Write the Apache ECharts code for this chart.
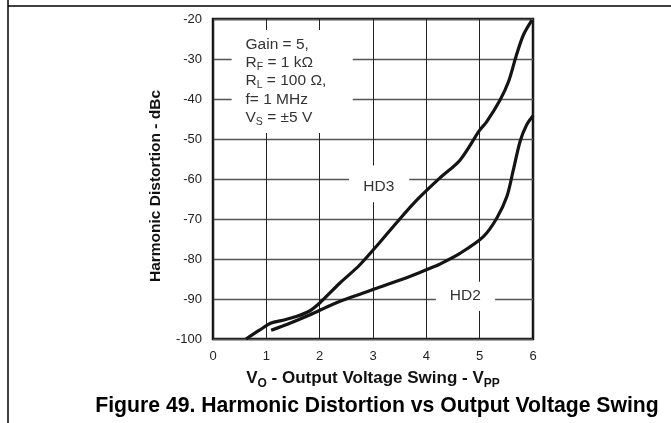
<!DOCTYPE html>
<html>
<head>
<meta charset="utf-8">
<script src="https://cdn.jsdelivr.net/npm/echarts@6/dist/echarts.min.js"></script>
<style>
html,body{margin:0;padding:0;background:#fff;}
#c{width:671px;height:423px;}
</style>
</head>
<body>
<div id="c"></div>
<script>
// ---- data ----
const xTicks = [0, 1, 2, 3, 4, 5, 6];
const yTicks = [-100, -90, -80, -70, -60, -50, -40, -30, -20];

const hd3X = [0.62, 0.87, 1.09, 1.31, 1.56, 1.81, 2.0, 2.38, 2.75, 3.13, 3.45, 3.82, 4.25, 4.63, 5.0, 5.13, 5.38, 5.54, 5.69, 5.82, 5.98];
const hd3Y = [-100, -97.8, -96, -95.3, -94.4, -93, -91, -86, -81.5, -75.8, -70.8, -65.3, -59.8, -55.3, -47.8, -45.7, -40.3, -35.7, -29, -24, -20.3];

const hd2X = [1.09, 1.43, 1.81, 2.25, 2.6, 3.07, 3.69, 4.07, 4.25, 4.63, 5.07, 5.32, 5.51, 5.63, 5.76, 5.88, 6.0];
const hd2Y = [-97.8, -96.1, -94, -91.3, -89.5, -87.3, -84.4, -82.3, -81.3, -78.6, -74.4, -69.8, -64.4, -57.8, -50.5, -46.5, -44.2];

const seriesNames = ['HD3', 'HD2'];
const conditions = ['Gain = 5,', 'R_F = 1 kΩ', 'R_L = 100 Ω,', 'f= 1 MHz', 'V_S = ±5 V'];
const xTitle = 'V_O - Output Voltage Swing - V_PP';
const yTitle = 'Harmonic Distortion - dBc';
const caption = 'Figure 49. Harmonic Distortion vs Output Voltage Swing';

// ---- helpers ----
function zip(xs, ys) { return xs.map((x, i) => [x, ys[i]]); }
function richSub(s, normal, sub) {
  return s.replace(/([A-Za-z])_([A-Za-z]+)/g, (m, a, b) => '{' + normal + '|' + a + '}{' + sub + '|' + b + '}')
          .split(/(\{[a-z]+\|[^}]*\})/).filter(t => t.length).map(t => t.startsWith('{') ? t : '{' + normal + '|' + t + '}').join('');
}

const FONT = 'Liberation Sans, Arial, Helvetica, sans-serif';
const chart = echarts.init(document.getElementById('c'), null, { renderer: 'canvas' });

const option = {
  animation: false,
  backgroundColor: '#fff',
  textStyle: { fontFamily: FONT },
  title: {
    text: caption,
    left: 377,
    textAlign: 'center',
    top: 396,
    padding: 0,
    textStyle: { fontFamily: FONT, fontSize: 21.2, fontWeight: 'bold', color: '#000' }
  },
  grid: {
    left: 213, top: 19, width: 320, height: 320,
    outerBoundsMode: 'none',
    show: true, borderColor: '#111', borderWidth: 2.5, backgroundColor: 'transparent'
  },
  xAxis: {
    type: 'value', min: xTicks[0], max: xTicks[xTicks.length - 1], interval: 1,
    axisLine: { show: false }, axisTick: { show: false },
    splitLine: { show: true, lineStyle: { color: '#222', width: 1 } },
    axisLabel: { margin: 11, fontSize: 13, color: '#222', fontFamily: FONT },
    name: richSub(xTitle, 'b', 's'),
    nameLocation: 'middle', nameGap: 30,
    nameTextStyle: {
      rich: {
        b: { fontSize: 17, fontWeight: 'bold', color: '#111', fontFamily: FONT, lineHeight: 18, verticalAlign: 'bottom' },
        s: { fontSize: 12, fontWeight: 'bold', color: '#111', fontFamily: FONT, lineHeight: 12, verticalAlign: 'bottom', padding: [0, 0, -3, 0] }
      }
    }
  },
  yAxis: {
    type: 'value', min: yTicks[0], max: yTicks[yTicks.length - 1], interval: 10,
    axisLine: { show: false }, axisTick: { show: false },
    splitLine: { show: true, lineStyle: { color: '#555', width: 1.4 } },
    axisLabel: { margin: 11, fontSize: 13, color: '#222', fontFamily: FONT },
    name: yTitle, nameLocation: 'middle', nameGap: 49, nameRotate: 90,
    nameTextStyle: { fontSize: 15.5, fontWeight: 'bold', color: '#111', fontFamily: FONT, padding: [0, 14, 0, 0] }
  },
  series: [
    {
      name: seriesNames[0], type: 'line', data: zip(hd3X, hd3Y), smooth: 0.3,
      showSymbol: false, z: 5,
      lineStyle: { color: '#141414', width: 3.2 }
    },
    {
      name: seriesNames[1], type: 'line', data: zip(hd2X, hd2Y), smooth: 0.3,
      showSymbol: false, z: 5,
      lineStyle: { color: '#141414', width: 3.2 }
    }
  ]
};
chart.setOption(option);

function P(x, y) { return chart.convertToPixel({ gridIndex: 0 }, [x, y]); }
function rectFromData(x0, y0, x1, y1) {
  const a = P(x0, y0), b = P(x1, y1);
  return {
    type: 'rect', z: 3,
    shape: { x: Math.min(a[0], b[0]), y: Math.min(a[1], b[1]), width: Math.abs(b[0] - a[0]), height: Math.abs(b[1] - a[1]) },
    style: { fill: '#fff' }, silent: true
  };
}

const condText = conditions.map(c => richSub(c, 'n', 's')).join('\n');
const annotPos = P(0.61, -23.8);
const hd3Pos = P(3.11, -62);
const hd2Pos = P(4.73, -89.2);

const labelStyle = { fontSize: 15.5, fontFamily: FONT, fill: '#333' };

chart.setOption({
  graphic: [
    { type: 'line', z: 10, shape: { x1: 8, y1: 0, x2: 8, y2: 423 }, style: { stroke: '#000', lineWidth: 1.5 } },
    { type: 'line', z: 10, shape: { x1: 8, y1: 6, x2: 671, y2: 6 }, style: { stroke: '#000', lineWidth: 1.5 } },
    rectFromData(0.35, -22.75, 2.62, -48.5),
    rectFromData(2.55, -56.6, 3.68, -65.8),
    rectFromData(4.18, -85.7, 5.29, -93),
    {
      type: 'text', z: 4, x: annotPos[0], y: annotPos[1],
      style: {
        text: condText, fill: '#333', fontFamily: FONT,
        rich: {
          n: { fontSize: 15.5, lineHeight: 18.3, fill: '#333', fontFamily: FONT, verticalAlign: 'bottom' },
          s: { fontSize: 10.5, lineHeight: 12, fill: '#333', fontFamily: FONT, verticalAlign: 'bottom', padding: [0, 0, -2, 0] }
        }
      }
    },
    { type: 'text', z: 4, x: hd3Pos[0], y: hd3Pos[1], style: Object.assign({ text: seriesNames[0], align: 'center', verticalAlign: 'middle' }, labelStyle) },
    { type: 'text', z: 4, x: hd2Pos[0], y: hd2Pos[1], style: Object.assign({ text: seriesNames[1], align: 'center', verticalAlign: 'middle' }, labelStyle) }
  ]
});
</script>
</body>
</html>
